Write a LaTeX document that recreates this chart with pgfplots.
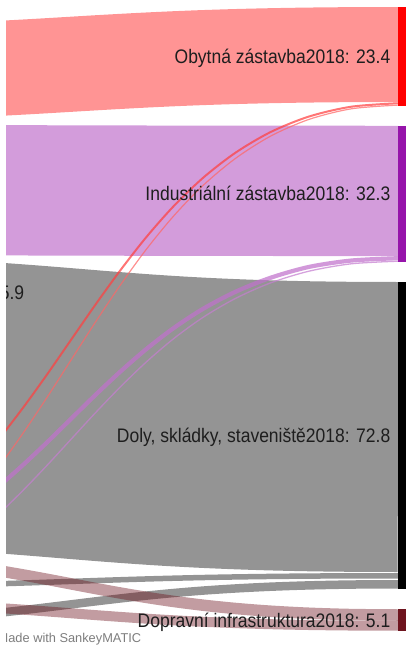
\documentclass[border=0pt]{standalone}
\usepackage{fontspec}
\setmainfont{Liberation Sans}
\usepackage{pgfplots}
\pgfplotsset{compat=1.18}
\definecolor{cobyt}{RGB}{255,0,0}
\definecolor{cind}{RGB}{150,20,170}
\definecolor{cdoly}{RGB}{0,0,0}
\definecolor{cdop}{RGB}{110,20,30}
\definecolor{labtxt}{RGB}{30,30,30}
\definecolor{madetxt}{RGB}{125,125,125}
\tikzset{lab/.style={anchor=base east, inner sep=0pt, text=labtxt, font=\fontsize{17.5bp}{21bp}\selectfont}}
\pgfplotsset{flow/.style={smooth, no marks, line cap=butt, draw opacity=0.42},
  thinflow/.style={smooth, no marks, line cap=butt, draw opacity=0.72}}
\begin{document}
\begin{tikzpicture}
\useasboundingbox (0,0) rectangle (406bp,650bp);
\begin{axis}[at={(0,0)}, anchor=south west,
  width=406bp, height=650bp, scale only axis,
  xmin=0, xmax=406, ymin=0, ymax=650, y dir=reverse,
  hide axis, clip=true]
% --- big flows ---
\addplot[flow, cobyt, line width=95bp] coordinates {(-33.0,69.87) (-5.4,68.58) (20.7,67.20) (45.9,65.77) (70.5,64.30) (95.1,62.83) (120.3,61.40) (146.4,60.02) (174.0,58.73) (203.5,57.56) (235.6,56.54) (270.5,55.69) (308.9,55.05) (351.3,54.64) (398,54.5)};
\addplot[flow, cind, line width=130.3bp] coordinates {(-33.0,190.2) (-5.4,190.25) (95.1,190.52) (203.5,190.76) (308.9,190.87) (398,190.9)};
\addplot[flow, cdoly, line width=290bp] coordinates {(-33.0,405.91) (-5.4,407.68) (20.7,409.57) (45.9,411.54) (70.5,413.55) (95.1,415.56) (120.3,417.53) (146.4,419.42) (174.0,421.19) (203.5,422.80) (235.6,424.20) (270.5,425.37) (308.9,426.25) (351.3,426.80) (398,427.0)};
% --- small flows into Doly, skladky, staveniste 2018 ---
\addplot[flow, cdoly, line width=5.5bp] coordinates {(-33.0,584.65) (-5.4,583.9) (20.7,583.1) (45.9,582.27) (70.5,581.42) (95.1,580.58) (120.3,579.75) (146.4,578.95) (174.0,578.2) (203.5,577.52) (235.6,576.93) (270.5,576.44) (308.9,576.07) (351.3,575.83) (398,575.75)};
\addplot[flow, cdoly, line width=8.5bp] coordinates {(-33.0,615.88) (-5.4,613.23) (20.7,610.4) (45.9,607.44) (70.5,604.42) (95.1,601.41) (120.3,598.45) (146.4,595.62) (174.0,592.97) (203.5,590.55) (235.6,588.45) (270.5,586.7) (308.9,585.38) (351.3,584.54) (398,584.25)};
% --- flows into Dopravni infrastruktura 2018 ---
\addplot[flow, cdop, line width=11.5bp] coordinates {(-33.0,566.0) (-5.4,570.11) (20.7,574.5) (45.9,579.08) (70.5,583.75) (95.1,588.42) (120.3,593.0) (146.4,597.39) (174.0,601.5) (203.5,605.23) (235.6,608.5) (270.5,611.2) (308.9,613.25) (351.3,614.55) (398,615.0)};
\addplot[flow, cdop, line width=10bp] coordinates {(-33.0,606.1) (-5.4,607.74) (20.7,609.5) (45.9,611.33) (70.5,613.2) (95.1,615.07) (120.3,616.9) (146.4,618.66) (174.0,620.3) (203.5,621.79) (235.6,623.1) (270.5,624.18) (308.9,625.0) (351.3,625.52) (398,625.7)};
% --- thin flows into Obytna zastavba 2018 ---
\addplot[thinflow, cobyt!75!white, line width=2.0bp] coordinates {(-33.0,475.45) (-5.4,444.24) (20.7,410.89) (45.9,376.11) (70.5,340.62) (95.1,305.14) (120.3,270.36) (146.4,237.01) (174.0,205.80) (203.5,177.43) (235.6,152.62) (270.5,132.09) (308.9,116.54) (351.3,106.69) (398,103.25)};
\addplot[thinflow, cobyt!60!white, line width=1.2bp] coordinates {(-33.0,506.12) (-5.4,472.49) (20.7,436.55) (45.9,399.09) (70.5,360.85) (95.1,322.62) (120.3,285.15) (146.4,249.21) (174.0,215.58) (203.5,185.02) (235.6,158.30) (270.5,136.17) (308.9,119.42) (351.3,108.81) (398,105.1)};
% --- thin flows into Industrialni zastavba 2018 ---
\addplot[thinflow, cind!60!white, line width=4.2bp] coordinates {(-33.0,510.88) (-5.4,489.69) (20.7,467.05) (45.9,443.44) (70.5,419.35) (95.1,395.26) (120.3,371.65) (146.4,349.01) (174.0,327.82) (203.5,308.56) (235.6,291.72) (270.5,277.78) (308.9,266.92) (351.3,260.54) (398,258.2)};
\addplot[thinflow, cind!55!white, line width=1.3bp] coordinates {(-33.0,541.32) (-5.4,517.83) (20.7,492.73) (45.9,466.56) (70.5,439.85) (95.1,413.14) (120.3,386.97) (146.4,361.87) (174.0,338.38) (203.5,317.03) (235.6,298.36) (270.5,282.90) (308.9,271.20) (351.3,263.79) (398,261.2)};
% --- nodes (2018 column) ---
\addplot[fill=cobyt, draw=none] coordinates {(398,7) (406,7) (406,105.75) (398,105.75)} -- cycle;
\addplot[fill=cind, draw=none] coordinates {(398,125.75) (406,125.75) (406,262.05) (398,262.05)} -- cycle;
\addplot[fill=cdoly, draw=none] coordinates {(398,282.05) (406,282.05) (406,589.2) (398,589.2)} -- cycle;
\addplot[fill=cdop, draw=none] coordinates {(398,609.2) (406,609.2) (406,630.7) (398,630.7)} -- cycle;
% --- labels ---
\node[lab] at (axis cs:390.5,63.4) {\scalebox{1}[1.12]{Obytná zástavba2018: 23.4}};
\node[lab] at (axis cs:390.5,200.9) {\scalebox{1}[1.12]{Industriální zástavba2018: 32.3}};
\node[lab] at (axis cs:390.5,442.6) {\scalebox{1}[1.12]{Doly, skládky, staveniště2018: 72.8}};
\node[lab] at (axis cs:390.5,627.0) {\scalebox{1}[1.12]{Dopravní infrastruktura2018: 5.1}};
\node[lab] at (axis cs:24.3,299.3) {\scalebox{1}[1.12]{5.9}};
\node[anchor=base west, inner sep=0pt, text=madetxt, font=\fontsize{12.8bp}{15bp}\selectfont] at (axis cs:-2.5,642) {Made with SankeyMATIC};
\fill[white] (axis cs:-40,-10) rectangle (axis cs:6,660);
\end{axis}
\end{tikzpicture}
\end{document}
